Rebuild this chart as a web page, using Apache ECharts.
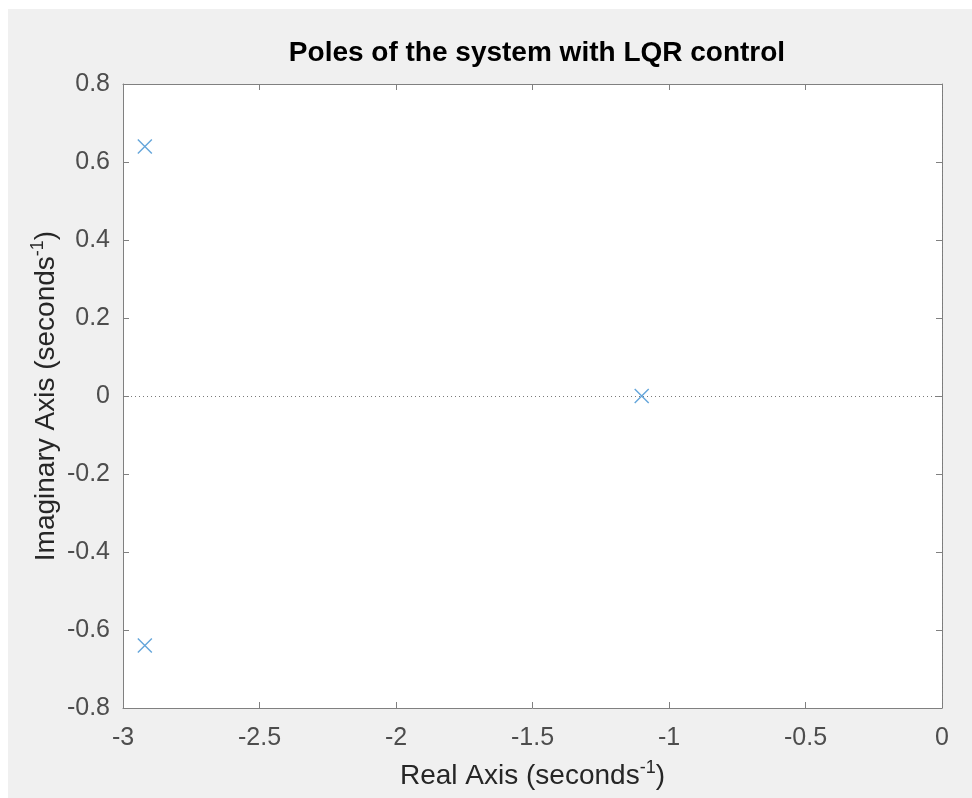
<!DOCTYPE html>
<html>
<head>
<meta charset="utf-8">
<script src="https://cdn.jsdelivr.net/npm/echarts@6/dist/echarts.min.js"></script>
<style>
  html, body { margin:0; padding:0; background:#fff; width:972px; height:798px; overflow:hidden; }
  #poleChart { position:absolute; left:8px; top:9px; width:964px; height:789px; }
</style>
</head>
<body>
<div id="poleChart"></div>
<script>
  // poles
  const realParts = [-2.92, -2.92, -1.1];
  const imagParts = [0.64, -0.64, 0];
  const xTicks = [-3, -2.5, -2, -1.5, -1, -0.5, 0];
  const yTicks = [-0.8, -0.6, -0.4, -0.2, 0, 0.2, 0.4, 0.6, 0.8];

  const axisGray = '#808080';
  const labelGray = '#4d4d4d';
  const fontFam = 'Liberation Sans, Arial, sans-serif';

  let chart = echarts.init(document.getElementById('poleChart'));

  let poles = realParts.map((x, i) => [x, imagParts[i]]);

  function boxAxis(pos, min, max, step, show) {
    return {
      type: 'value',
      position: pos,
      min: min,
      max: max,
      interval: step,
      axisLine: { show: true, onZero: false, lineStyle: { color: axisGray, width: 1 } },
      axisTick: { show: true, inside: true, length: 6, lineStyle: { color: axisGray } },
      splitLine: { show: false },
      axisLabel: { show: show }
    };
  }

  let nameStyle = {
    color: '#262626', fontSize: 28, fontFamily: fontFam, lineHeight: 34,
    rich: { sup: { fontSize: 18, fontFamily: fontFam, color: '#262626', verticalAlign: 'top', lineHeight: 34, padding: [0, 0, 12, 0] } }
  };

  let xBottom = boxAxis('bottom', xTicks[0], xTicks[xTicks.length - 1], 0.5, true);
  xBottom.axisLabel = { color: labelGray, fontSize: 25, fontFamily: fontFam, margin: 18 };
  xBottom.name = 'Real Axis (seconds{sup|-1})';
  xBottom.nameLocation = 'middle';
  xBottom.nameGap = 51;
  xBottom.nameMoveOverlap = false;
  xBottom.nameTextStyle = nameStyle;

  let yLeft = boxAxis('left', yTicks[0], yTicks[yTicks.length - 1], 0.2, true);
  yLeft.axisLabel = { color: labelGray, fontSize: 25, fontFamily: fontFam, margin: 13 };
  yLeft.name = 'Imaginary Axis (seconds{sup|-1})';
  yLeft.nameLocation = 'middle';
  yLeft.nameGap = 60;
  yLeft.nameMoveOverlap = false;
  yLeft.nameTextStyle = nameStyle;

  let option = {
    backgroundColor: '#f0f0f0',
    animation: false,
    title: {
      text: 'Poles of the system with LQR control',
      left: 524,
      textAlign: 'center',
      top: 25,
      textStyle: { color: '#000', fontSize: 28, fontWeight: 'bold', fontFamily: fontFam }
    },
    grid: { left: 115, right: 30, top: 75, bottom: 85, show: true, backgroundColor: '#fff', borderWidth: 0 },
    xAxis: [xBottom, boxAxis('top', xTicks[0], xTicks[xTicks.length - 1], 0.5, false)],
    yAxis: [yLeft, boxAxis('right', yTicks[0], yTicks[yTicks.length - 1], 0.2, false)],
    series: [{
      type: 'scatter',
      data: poles,
      symbol: 'path://M0,0L10,10M10,0L0,10',
      symbolSize: 14,
      itemStyle: { color: 'none', borderColor: '#3d8fd1', borderWidth: 1.4 },
      z: 5,
      markLine: {
        silent: true,
        symbol: ['none', 'none'],
        label: { show: false },
        lineStyle: { color: '#7a7a7a', type: [1, 3], width: 1 },
        data: [{ yAxis: 0 }, { xAxis: 0 }]
      }
    }]
  };

  chart.setOption(option);
</script>
</body>
</html>
